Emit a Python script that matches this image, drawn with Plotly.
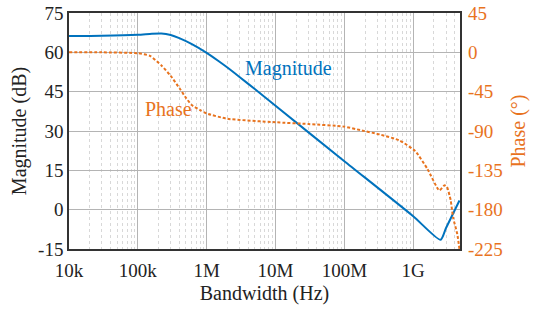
import plotly.graph_objects as go

mag_freq = [1e4, 3e4, 1e5, 1.6e5, 2.2e5, 3e5, 4e5, 6e5, 1e6, 1.5e6, 2e6, 3e6, 5e6,
            1e7, 1e8, 1e9, 2.5e9, 3e9, 4.7e9]
mag_db = [66.2, 66.3, 66.7, 67.1, 67.2, 66.6, 65.4, 63.2, 59.8, 56.6, 54.2, 50.6, 46.0,
          39.6, 18.5, -2.5, -11.5, -7.0, 3.5]

ph_freq = [1e4, 3e4, 1e5, 1.5e5, 2.2e5, 3e5, 4.1e5, 5e5, 6e5, 8e5, 1e6, 2e6, 1e7, 3e7,
           1e8, 1.7e8, 3.3e8, 6.4e8, 1.07e9, 1.6e9, 2.4e9, 2.85e9, 3.1e9, 3.5e9, 3.8e9,
           4.37e9, 4.7e9]
ph_deg = [0, 0, -1, -4, -15, -27, -42, -52, -60, -66, -70, -76, -80, -82,
          -85, -89, -94, -101, -113, -133, -158, -152, -154, -169, -189,
          -208, -225]

x_tickvals = [1e4, 1e5, 1e6, 1e7, 1e8, 1e9]
x_ticktext = ["10k", "100k", "1M", "10M", "100M", "1G"]
mag_ticks = [-15, 0, 15, 30, 45, 60, 75]
mag_ticktext = ["-15", "0", "15", "30", "45", "60", "75"]
ph_ticks = [-225, -180, -135, -90, -45, 0, 45]
ph_ticktext = ["-225", "-180", "-135", "-90", "-45", "0", "45"]

BLUE = "#0072BD"
ORANGE = "#E8731E"
FONT = "Liberation Serif"

fig = go.Figure()
fig.add_trace(go.Scatter(x=mag_freq, y=mag_db, mode="lines",
                         line=dict(color=BLUE, width=2, shape="spline", smoothing=0.6),
                         showlegend=False))
fig.add_trace(go.Scatter(x=ph_freq, y=ph_deg, mode="lines", yaxis="y2",
                         line=dict(color=ORANGE, width=2, dash="3px,2px", shape="spline", smoothing=0.5),
                         showlegend=False))

fig.update_layout(
    width=533, height=314, autosize=False,
    margin=dict(l=69, r=73, t=13, b=65, autoexpand=False),
    paper_bgcolor="white", plot_bgcolor="white",
    font=dict(family=FONT, size=19, color="#222"),
    xaxis=dict(type="log", range=[4, 9.68], tickvals=x_tickvals, ticktext=x_ticktext,
               automargin=False,
               showgrid=True, gridcolor="#b4b4b4", gridwidth=1,
               minor=dict(dtick="D1", showgrid=True, gridcolor="#d8d8d8", griddash="dot", gridwidth=1),
               showline=True, linecolor="#333", linewidth=1.5, mirror=True,
               ticks="", ticklabelstandoff=3,
               title=dict(text="Bandwidth (Hz)", font=dict(size=20), standoff=6)),
    yaxis=dict(range=[-15, 75], tickvals=mag_ticks, ticktext=mag_ticktext,
               showgrid=True, gridcolor="#b4b4b4",
               automargin=False,
               showline=True, linecolor="#333", linewidth=1.5, mirror=True, zeroline=False,
               ticks="", title=dict(text="Magnitude (dB)", font=dict(size=20), standoff=6)),
    yaxis2=dict(range=[-225, 45], tickvals=ph_ticks, ticktext=ph_ticktext,
                overlaying="y", side="right",
                automargin=False,
                showgrid=False, zeroline=False, ticks="", ticklabelstandoff=7,
                tickfont=dict(color=ORANGE, size=19),
                title=dict(text="Phase (°)", font=dict(color=ORANGE, size=20), standoff=9)),
    annotations=[
        dict(x=0.562, y=0.765, xref="paper", yref="paper", text="Magnitude", showarrow=False,
             font=dict(color=BLUE, size=20, family=FONT), xanchor="center", yanchor="middle"),
        dict(x=0.254, y=0.595, xref="paper", yref="paper", text="Phase", showarrow=False,
             font=dict(color=ORANGE, size=20, family=FONT), xanchor="center", yanchor="middle"),
    ],
)

fig.write_html("out.html", config={"displayModeBar": False},
               post_script="document.body.style.margin='0px';")
